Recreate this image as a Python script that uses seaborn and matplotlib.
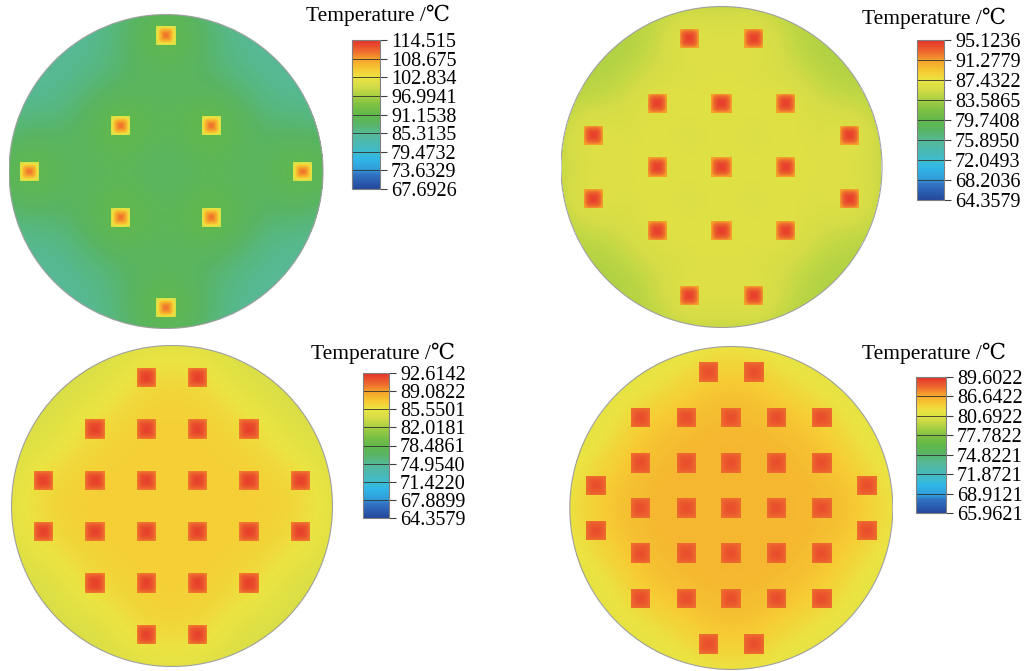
import numpy as np
import matplotlib
matplotlib.use("Agg")
import matplotlib.pyplot as plt
from matplotlib.colors import LinearSegmentedColormap, BoundaryNorm
from matplotlib.patches import Circle
import seaborn as sns

sns.set_theme(style="white")
plt.rcParams['font.family'] = ['Liberation Serif', 'DejaVu Serif', 'DejaVu Sans', 'Noto Sans CJK SC']

W, H = 1033, 671
WAFER_R = 50.0      # wafer radius, mm
CHIP_HALF = 3.0     # half side of a heat source, mm
GRID_N = 320

# ---- heat-source centres (mm) for the four layouts ----
chips1_x = [0, -14.5, 14.5, -43.5, 43.5, -14.5, 14.5, 0]
chips1_y = [43.5, 14.5, 14.5, 0, 0, -14.5, -14.5, -43.5]

chips2_x = [-10, 10, -20, 0, 20, -40, 40, -20, 0, 20, -40, 40, -20, 0, 20, -10, 10]
chips2_y = [40, 40, 20, 20, 20, 10, 10, 0, 0, 0, -10, -10, -20, -20, -20, -40, -40]

chips3_x = [-8, 8,
            -24, -8, 8, 24,
            -40, -24, -8, 8, 24, 40,
            -40, -24, -8, 8, 24, 40,
            -24, -8, 8, 24,
            -8, 8]
chips3_y = [40, 40,
            24, 24, 24, 24,
            8, 8, 8, 8, 8, 8,
            -8, -8, -8, -8, -8, -8,
            -24, -24, -24, -24,
            -40, -40]

chips4_x = [-7, 7,
            -28, -14, 0, 14, 28,
            -28, -14, 0, 14, 28,
            -42, 42,
            -28, -14, 0, 14, 28,
            -42, 42,
            -28, -14, 0, 14, 28,
            -28, -14, 0, 14, 28,
            -7, 7]
chips4_y = [42, 42,
            28, 28, 28, 28, 28,
            14, 14, 14, 14, 14,
            7, 7,
            0, 0, 0, 0, 0,
            -7, -7,
            -14, -14, -14, -14, -14,
            -28, -28, -28, -28, -28,
            -42, -42]

# ---- colour-bar tick labels (degC) ----
ticks1 = ["114.515", "108.675", "102.834", "96.9941", "91.1538", "85.3135", "79.4732", "73.6329", "67.6926"]
ticks2 = ["95.1236", "91.2779", "87.4322", "83.5865", "79.7408", "75.8950", "72.0493", "68.2036", "64.3579"]
ticks3 = ["92.6142", "89.0822", "85.5501", "82.0181", "78.4861", "74.9540", "71.4220", "67.8899", "64.3579"]
ticks4 = ["89.6022", "86.6422", "80.6922", "77.7822", "74.8221", "71.8721", "68.9121", "65.9621"]

# ---- substrate / source temperatures (degC) ----
bg_low = [85.4, 84.0, 84.2, 81.6]
bg_high = [90.6, 86.6, 86.8, 85.8]
chip_edge = [100.5, 91.2, 90.0, 88.0]
chip_peak = [110.5, 94.5, 92.0, 88.8]
spread = [11.0, 9.0, 10.0, 11.0]

# rainbow palette stops
cmap_pos = [0.00, 0.10, 0.125, 0.20, 0.25, 0.3125, 0.375, 0.4375, 0.50,
            0.5625, 0.625, 0.6875, 0.75, 0.80, 0.875, 0.92, 1.00]
cmap_hex = ["#23479b", "#3274c4", "#2f9ad8", "#30b6e8", "#3fbccc", "#4bb8b0",
            "#56b996", "#58b462", "#62b84a", "#7cc043", "#a6cf42", "#d4dc46",
            "#eae442", "#f6cc34", "#f4a02a", "#ee6e2e", "#e4302a"]
cmap = LinearSegmentedColormap.from_list("thermal", list(zip(cmap_pos, cmap_hex)), N=512)


def temperature_field(cx, cy, low, high, edge, peak, sigma):
    coords = np.linspace(-WAFER_R, WAFER_R, GRID_N)
    X, Y = np.meshgrid(coords, coords[::-1])
    inside = X ** 2 + Y ** 2 <= WAFER_R ** 2
    S = np.zeros_like(X)
    for x0, y0 in zip(cx, cy):
        S += np.exp(-((X - x0) ** 2 + (Y - y0) ** 2) / (2 * sigma ** 2))
    S = (S - S[inside].min()) / (S[inside].max() - S[inside].min())
    T = low + (high - low) * S
    for x0, y0 in zip(cx, cy):
        dx, dy = np.abs(X - x0), np.abs(Y - y0)
        m = (dx <= CHIP_HALF) & (dy <= CHIP_HALF)
        rho = (dx[m] ** 4 + dy[m] ** 4) ** 0.25 / CHIP_HALF
        T[m] = edge + (peak - edge) * (1 - np.clip(rho, 0, 1) ** 2)
    return T, ~inside


def px_rect(l, t, w, h):
    return [l / W, 1 - (t + h) / H, w / W, h / H]


field_boxes = [(8.5, 14, 315, 315), (560.5, 6, 322, 322), (11, 345, 322, 322), (569.3, 346, 324, 324)]
cbar_boxes = [(352, 40, 28, 149), (917, 40, 27, 160), (363, 373, 26, 145), (916, 377, 30, 136)]
title_pos = [(377.5, 15), (934, 18), (382.5, 353), (934, 353)]

layouts = [(chips1_x, chips1_y, ticks1), (chips2_x, chips2_y, ticks2),
           (chips3_x, chips3_y, ticks3), (chips4_x, chips4_y, ticks4)]

fig = plt.figure(figsize=(W / 100, H / 100), dpi=100)

for k, (cx, cy, labels) in enumerate(layouts):
    vals = [float(s) for s in labels]
    asc = sorted(vals)
    bounds = np.unique(np.concatenate([np.linspace(a, b, 65) for a, b in zip(asc[:-1], asc[1:])]))
    norm = BoundaryNorm(bounds, ncolors=cmap.N)

    T, outside = temperature_field(cx, cy, bg_low[k], bg_high[k], chip_edge[k], chip_peak[k], spread[k])

    ax = fig.add_axes(px_rect(*field_boxes[k]))
    cax = fig.add_axes(px_rect(*cbar_boxes[k]))
    sns.heatmap(T, mask=outside, cmap=cmap, norm=norm, ax=ax, cbar_ax=cax,
                cbar_kws={"ticks": vals}, xticklabels=False, yticklabels=False)

    mesh = ax.collections[0]
    disk = Circle((GRID_N / 2, GRID_N / 2), GRID_N / 2, transform=ax.transData)
    mesh.set_clip_path(disk)
    ax.add_patch(Circle((GRID_N / 2, GRID_N / 2), GRID_N / 2 - 0.5, fill=False,
                        ec="#a0a0a0", lw=0.8, zorder=3))

    cb = mesh.colorbar
    cb.set_ticks(vals, labels=labels)
    cb.minorticks_off()
    cb.outline.set_linewidth(0.8)
    cb.outline.set_edgecolor("#808080")
    inner = vals[1:-1]
    cb.add_lines(inner, colors=["#303030"] * len(inner), linewidths=[0.6] * len(inner))
    cax.tick_params(axis="y", which="major", right=True, length=5, width=0.8, color="#404040",
                    pad=3, labelsize=14.5, labelcolor="black")
    cax.tick_params(axis="y", which="minor", length=0)
    for t in cax.get_yticklabels():
        t.set_fontfamily(['Liberation Serif', 'DejaVu Serif'])

    tx, ty = title_pos[k]
    fig.text(tx / W, 1 - ty / H, "Temperature /℃", ha="center", va="center",
             fontsize=15.5, color="black",
             family=['Liberation Serif', 'DejaVu Serif', 'DejaVu Sans', 'Noto Sans CJK SC'])

fig.savefig("out.png", dpi=100)
